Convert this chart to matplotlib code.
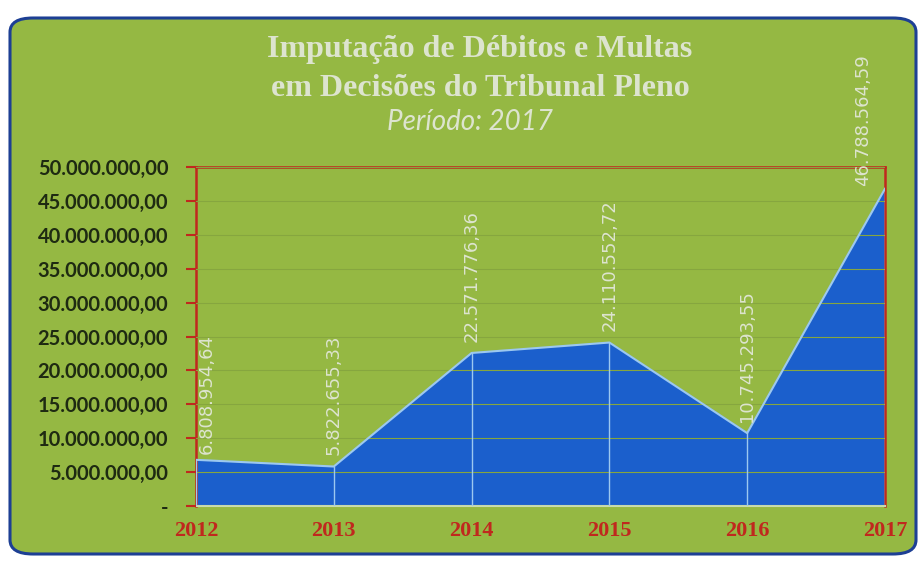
import matplotlib
matplotlib.use("Agg")
import matplotlib.pyplot as plt
from matplotlib.patches import FancyBboxPatch
import numpy as np

years = ["2012", "2013", "2014", "2015", "2016", "2017"]
values = [6808954.64, 5822655.33, 22571776.36, 24110552.72, 10745293.55, 46788564.59]
ytick_vals = [0, 5e6, 10e6, 15e6, 20e6, 25e6, 30e6, 35e6, 40e6, 45e6, 50e6]
title_lines = ["Imputação de Débitos e Multas", "em Decisões do Tribunal Pleno"]
subtitle = "Período: 2017"

def br(v):
    s = f"{v:,.2f}"
    return s.replace(",", "X").replace(".", ",").replace("X", ".")

GREEN = "#95b843"
BLUE = "#1b5fcc"
RED = "#c0281e"
LIGHT = "#dde4cf"

fig = plt.figure(figsize=(9.23, 5.64), dpi=100)
fig.patch.set_facecolor("white")
W, H = 923, 564
box = FancyBboxPatch((10 / W, 10 / H), 906 / W, 536 / H,
                     boxstyle="round,pad=0,rounding_size=0.025",
                     transform=fig.transFigure, facecolor=GREEN,
                     edgecolor="#1d3f94", linewidth=2.2, zorder=-10)
fig.patches.append(box)

ax = fig.add_axes([196 / W, (564 - 506) / H, (885 - 196) / W, (506 - 167) / H])
ax.set_zorder(5)
ax.set_facecolor("none")
x = np.arange(len(years))
ax.fill_between(x, values, 0, color=BLUE, zorder=2)
ax.plot(x, values, color="#9cc8f0", lw=1.5, zorder=3)
for xi, v in zip(x, values):
    ax.plot([xi, xi], [0, v], color="#9cc8f0", lw=1.0, zorder=3)
ax.set_xlim(0, len(years) - 1)
ax.set_ylim(0, 50e6)
ax.set_yticks(ytick_vals)
ax.set_yticklabels(["-"] + [br(v) for v in ytick_vals[1:]],
                   fontsize=14.5, fontweight="bold", color="#1e2a12", family="Lato")
ax.set_xticks(x)
ax.set_xticklabels(years, fontsize=16, fontweight="bold", color=RED,
                   family="Liberation Serif")
ax.tick_params(axis="y", colors=RED, length=7, width=1.5, labelcolor="#1e2a12", pad=13)
ax.tick_params(axis="x", length=0, pad=11)
ax.grid(axis="y", color="#86a63f", lw=0.8, zorder=1)
for s in ["left", "top", "right"]:
    ax.spines[s].set_color(RED)
    ax.spines[s].set_linewidth(1.8)
ax.spines["bottom"].set_color("#c9dcb0")
ax.spines["bottom"].set_linewidth(1.5)
ax.set_axisbelow(False)

n = len(years)
for xi, v in zip(x, values):
    if xi == 0:
        off = (8, 4)
    elif xi == n - 1:
        off = (-16, 2)
    else:
        off = (0, 8)
    ax.annotate(br(v), (xi, v), xytext=off,
                textcoords="offset points", rotation=90, ha="center", va="bottom",
                fontsize=13, color=LIGHT, annotation_clip=False, zorder=5)

fig.text(480 / W, 1 - 50 / H, title_lines[0], ha="center", va="center",
         fontsize=23, fontweight="bold", color=LIGHT, family="Liberation Serif")
fig.text(480 / W, 1 - 88 / H, title_lines[1], ha="center", va="center",
         fontsize=23, fontweight="bold", color=LIGHT, family="Liberation Serif")
fig.text(470 / W, 1 - 122 / H, subtitle, ha="center", va="center",
         fontsize=20, style="italic", color=LIGHT, family="Lato")

fig.savefig("out.png", dpi=100, facecolor=fig.get_facecolor())
